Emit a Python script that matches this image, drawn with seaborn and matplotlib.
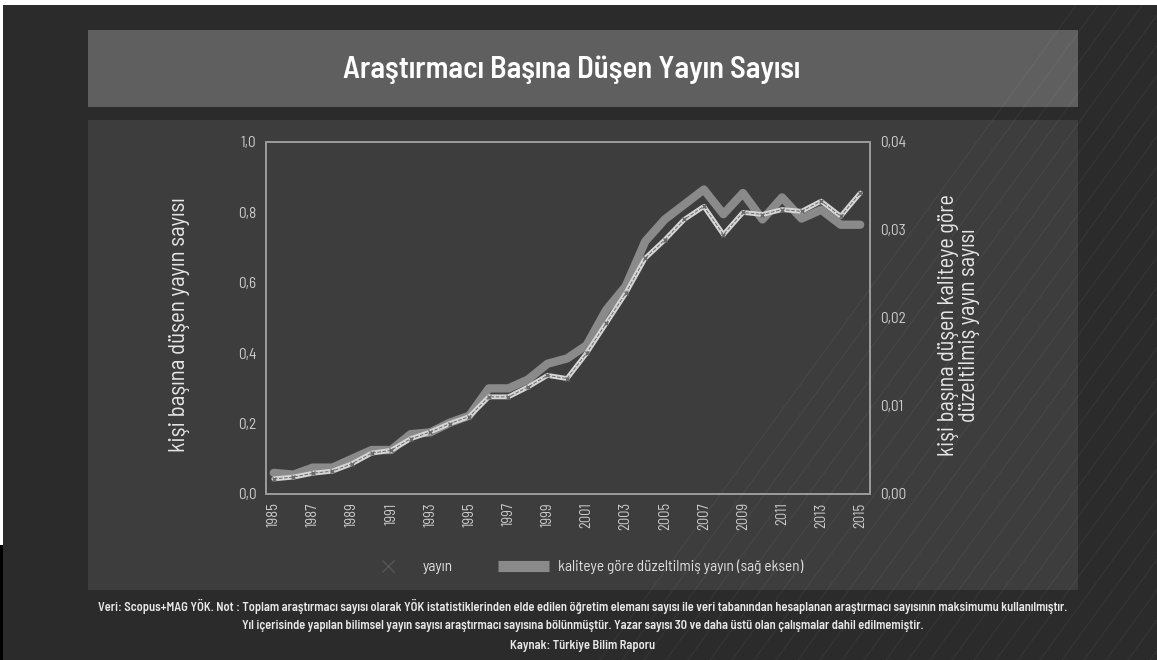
import numpy as np
import pandas as pd
import seaborn as sns
import matplotlib.pyplot as plt
from matplotlib.patches import Rectangle
from matplotlib.lines import Line2D

# data
years = list(range(1985, 2016))
yayin = [0.043, 0.048, 0.059, 0.065, 0.086, 0.116, 0.124, 0.157, 0.176, 0.200,
         0.220, 0.276, 0.276, 0.304, 0.337, 0.328, 0.400, 0.485, 0.570, 0.670,
         0.722, 0.780, 0.817, 0.737, 0.800, 0.794, 0.808, 0.803, 0.832, 0.789,
         0.855]
kalite = [0.0024, 0.0022, 0.0030, 0.0030, 0.0040, 0.0050, 0.0050, 0.0068, 0.0070, 0.0081,
          0.0089, 0.0120, 0.0120, 0.0130, 0.0148, 0.0154, 0.0169, 0.0209, 0.0236, 0.0287,
          0.0312, 0.0329, 0.0346, 0.0318, 0.0342, 0.0312, 0.0337, 0.0313, 0.0323, 0.0306,
          0.0306]
year_ticks = list(range(1985, 2016, 2))
left_ticks = [0.0, 0.2, 0.4, 0.6, 0.8, 1.0]
right_ticks = [0.00, 0.01, 0.02, 0.03, 0.04]

df = pd.DataFrame({"yil": years, "yayin": yayin, "kalite": kalite})

sns.set_style("dark")
plt.rcParams['font.family'] = ['Barlow Semi Condensed', 'DejaVu Sans']

W, H = 1157, 660
fig = plt.figure(figsize=(W / 100, H / 100), dpi=100, facecolor="#2b2b2b")

# background boxes
fig.add_artist(Rectangle((88 / W, 1 - 107 / H), 990 / W, 77 / H, transform=fig.transFigure,
                         facecolor="#5f5f5f", edgecolor="none", zorder=0))
fig.add_artist(Rectangle((88 / W, 1 - 590 / H), 990 / W, 470 / H, transform=fig.transFigure,
                         facecolor="#3d3d3d", edgecolor="none", zorder=0))
fig.add_artist(Rectangle((0, 1 - 5 / H), 1, 5 / H, transform=fig.transFigure,
                         facecolor="white", edgecolor="none", zorder=0))
fig.add_artist(Rectangle((0, 1 - 545 / H), 3 / W, 540 / H, transform=fig.transFigure,
                         facecolor="white", edgecolor="none", zorder=0))
fig.add_artist(Rectangle((0, 0), 3 / W, 115 / H, transform=fig.transFigure,
                         facecolor="black", edgecolor="none", zorder=0))

# faint diagonal decoration lines on the right
for x0 in range(600, 1400, 22):
    fig.add_artist(Line2D([x0 / W, (x0 + 480) / W], [0, 1], transform=fig.transFigure,
                          color="white", alpha=0.05, lw=0.8, zorder=0.5))

fig.text(572 / W, 1 - 70 / H, "Araştırmacı Başına Düşen Yayın Sayısı", ha="center", va="center",
         color="white", fontsize=22, fontweight="semibold")

ax = fig.add_axes([266 / W, 1 - 494 / H, 604 / W, 352 / H])
ax2 = ax.twinx()

sns.lineplot(data=df, x="yil", y="kalite", ax=ax2, color="#8a8a8a", lw=6, legend=False)
sns.lineplot(data=df, x="yil", y="yayin", ax=ax, color="#d6d6d6", lw=3.5, legend=False)
ax.plot(df["yil"], df["yayin"], color="#6a6a6a", lw=0.7, ls="--", marker="x", markersize=3)

ax.set_zorder(ax2.get_zorder() + 1)
ax.patch.set_visible(False)
ax2.set_facecolor("#3d3d3d")

ax.set_xlim(1984.6, 2015.5)
ax.set_ylim(0, 1.0)
ax2.set_ylim(0, 0.04)
ax.set_xticks(year_ticks)
ax.set_xticklabels([str(y) for y in year_ticks], rotation=90)
ax.set_yticks(left_ticks)
ax.set_yticklabels([f"{v:.1f}".replace(".", ",") for v in left_ticks])
ax2.set_yticks(right_ticks)
ax2.set_yticklabels([f"{v:.2f}".replace(".", ",") for v in right_ticks])

for a in (ax, ax2):
    a.grid(False)
    a.tick_params(colors="#cccccc", labelsize=11, length=0, pad=7)
    for s in a.spines.values():
        s.set_visible(True)
        s.set_color("#9a9a9a")
        s.set_linewidth(1.3)
ax.tick_params(axis="x", labelsize=10.5, pad=6)

ax.set_xlabel("")
ax.set_ylabel("kişi başına düşen yayın sayısı", color="#e6e6e6", fontsize=16.5)
ax.yaxis.set_label_coords(-0.125, 0.48)
ax2.set_ylabel("kişi başına düşen kaliteye göre\ndüzeltilmiş yayın sayısı", color="#e6e6e6",
               fontsize=16, rotation=90, linespacing=1.0)
ax2.yaxis.set_label_coords(1.112, 0.48)

handles = [Line2D([], [], color="#555555", marker="x", ls="none", markersize=9),
           Line2D([], [], color="#8a8a8a", lw=8, solid_capstyle="butt")]
leg = fig.legend(handles, ["yayın", "kaliteye göre düzeltilmiş yayın (sağ eksen)"],
                 loc="center", bbox_to_anchor=(583 / W, 1 - 567 / H), ncol=2, frameon=False,
                 fontsize=11, labelcolor="#e0e0e0", handlelength=3.3, handletextpad=0.6,
                 columnspacing=3.0)

notes = ["Veri: Scopus+MAG YÖK. Not : Toplam araştırmacı sayısı olarak YÖK istatistiklerinden elde edilen öğretim elemanı sayısı ile veri tabanından hesaplanan araştırmacı sayısının maksimumu kullanılmıştır.",
         "Yıl içerisinde yapılan bilimsel yayın sayısı araştırmacı sayısına bölünmüştür. Yazar sayısı 30 ve daha üstü olan çalışmalar dahil edilmemiştir.",
         "Kaynak: Türkiye Bilim Raporu"]
for i, line in enumerate(notes):
    fig.text(583 / W, 1 - (606 + 20 * i) / H, line, ha="center", va="center",
             color="#e8e8e8", fontsize=9, fontweight="semibold")

fig.savefig("out.png", dpi=100, facecolor=fig.get_facecolor())
